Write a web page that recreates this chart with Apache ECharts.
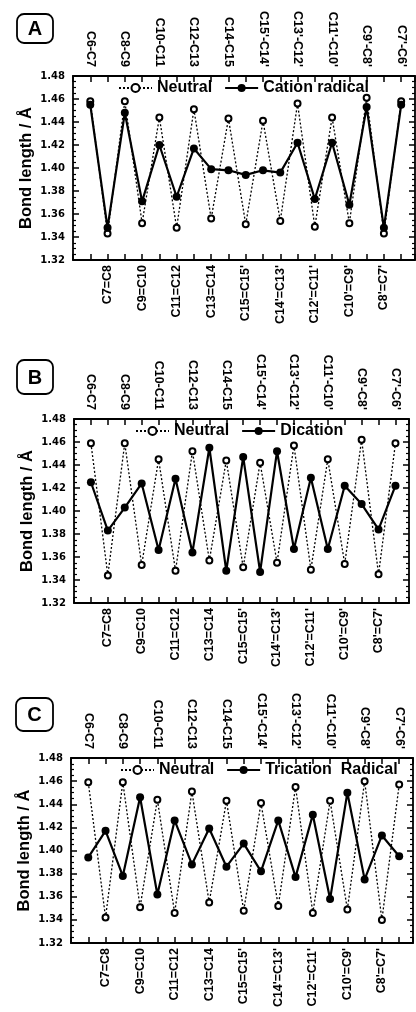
<!DOCTYPE html>
<html><head><meta charset="utf-8">
<script src="https://cdn.jsdelivr.net/npm/echarts@6/dist/echarts.min.js"></script>
<style>html,body{margin:0;padding:0;background:#fff}#c{width:416px;height:1012px}</style>
</head><body><div id="c"></div><script>
// Bond labels along the polyene chain (even index -> top axis, odd index -> bottom axis)
const bonds = ["C6-C7","C7=C8","C8-C9","C9=C10","C10-C11","C11=C12","C12-C13","C13=C14","C14-C15","C15=C15'",
  "C15'-C14'","C14'=C13'","C13'-C12'","C12'=C11'","C11'-C10'","C10'=C9'","C9'-C8'","C8'=C7'","C7'-C6'"];

// Panel A
const neutralA = [1.458,1.343,1.458,1.352,1.444,1.348,1.451,1.356,1.443,1.351,1.441,1.354,1.456,1.349,1.444,1.352,1.461,1.343,1.458];
const cationRadical = [1.455,1.348,1.448,1.371,1.420,1.375,1.417,1.399,1.398,1.394,1.398,1.396,1.422,1.373,1.422,1.368,1.453,1.348,1.455];
// Panel B
const neutralB = [1.459,1.344,1.459,1.353,1.445,1.348,1.452,1.357,1.444,1.351,1.442,1.355,1.457,1.349,1.445,1.354,1.462,1.345,1.459];
const dication = [1.425,1.383,1.403,1.424,1.366,1.428,1.364,1.455,1.348,1.447,1.347,1.452,1.367,1.429,1.367,1.422,1.406,1.384,1.422];
// Panel C
const neutralC = [1.459,1.342,1.459,1.351,1.444,1.346,1.451,1.355,1.443,1.348,1.441,1.352,1.455,1.346,1.443,1.349,1.460,1.340,1.457];
const tricationRadical = [1.394,1.417,1.378,1.446,1.362,1.426,1.388,1.419,1.386,1.406,1.382,1.426,1.377,1.431,1.358,1.450,1.375,1.413,1.395];

const yMin = 1.32, yMax = 1.48, yStep = 0.02;
const panelLetters = ["A","B","C"];
const seriesNames = [["Neutral","Cation radical"],["Neutral","Dication"],["Neutral","Trication  Radical"]];

const panels = [
  {grid:{left:73, top:76, width:342, height:184}, box:{x:17,y:14,w:36,h:29}, legendLeft:118, neutral:neutralA, ion:cationRadical},
  {grid:{left:74, top:419, width:335, height:184}, box:{x:17,y:360,w:36,h:34}, legendLeft:135, neutral:neutralB, ion:dication},
  {grid:{left:71, top:758, width:342, height:185}, box:{x:16,y:698,w:37,h:33}, legendLeft:120, neutral:neutralC, ion:tricationRadical}
];

const FONT = "'Liberation Sans', Arial, sans-serif";
const BLACK = '#000';

function xLabel(parity){
  return function(v){
    const i = Math.round(v);
    if (Math.abs(v - i) > 1e-6 || i < 0 || i >= bonds.length) return '';
    return (i % 2 === parity) ? bonds[i] : '';
  };
}

const grid = [], xAxis = [], yAxis = [], series = [], legend = [], graphic = [];
panels.forEach((p, k) => {
  grid.push(Object.assign({containLabel:false}, p.grid));
  const axisLine = {show:true, onZero:false, lineStyle:{color:BLACK, width:1.8}};
  const xBase = {type:'value', gridIndex:k, min:-1, max:18.8, interval:1,
    axisLine, splitLine:{show:false},
    axisTick:{show:true, inside:true, length:6, lineStyle:{color:BLACK, width:1.5}}};
  xAxis.push(Object.assign({}, xBase, {position:'bottom',
    axisLabel:{rotate:90, margin:5, formatter:xLabel(1), color:BLACK, fontWeight:'bold', fontSize:12.5, fontFamily:FONT}}));
  xAxis.push(Object.assign({}, xBase, {position:'top',
    axisLabel:{rotate:90, margin:9, formatter:xLabel(0), color:BLACK, fontWeight:'bold', fontSize:12.5, fontFamily:FONT}}));
  const yBase = {type:'value', gridIndex:k, min:yMin, max:yMax, interval:yStep,
    axisLine, splitLine:{show:false},
    axisTick:{show:true, inside:true, length:6, lineStyle:{color:BLACK, width:1.5}},
    minorTick:{show:true, splitNumber:4, length:3, lineStyle:{color:BLACK, width:1.2}}};
  yAxis.push(Object.assign({}, yBase, {position:'left',
    name:'Bond length / Å', nameLocation:'middle', nameRotate:90, nameGap:38, nameMoveOverlap:false,
    nameTextStyle:{color:BLACK, fontWeight:'bold', fontSize:16.5, fontFamily:FONT},
    axisLabel:{margin:8, formatter:v => v.toFixed(2), color:BLACK, fontWeight:'bold', fontSize:10, fontFamily:"'DejaVu Sans', sans-serif"}}));
  yAxis.push(Object.assign({}, yBase, {position:'right', axisLabel:{show:false}}));

  series.push({type:'line', name:seriesNames[k][0], xAxisIndex:2*k, yAxisIndex:2*k,
    data:p.neutral.map((v,i)=>[i,v]), symbol:'emptyCircle', symbolSize:6, showSymbol:true, showAllSymbol:true,
    lineStyle:{color:BLACK, width:1.3, type:[2,2]},
    itemStyle:{color:BLACK, borderWidth:1.2}, z:2, animation:false});
  series.push({type:'line', name:seriesNames[k][1], xAxisIndex:2*k, yAxisIndex:2*k,
    data:p.ion.map((v,i)=>[i,v]), symbol:'circle', symbolSize:8, showSymbol:true,
    lineStyle:{color:BLACK, width:2.2, type:'solid'},
    itemStyle:{color:BLACK}, z:3, animation:false});

  legend.push({data:seriesNames[k], left:p.legendLeft, top:p.grid.top + 4,
    itemWidth:33, itemHeight:10, itemGap:12, padding:0,
    textStyle:{color:BLACK, fontWeight:'bold', fontSize:16, fontFamily:FONT}});

  graphic.push({type:'rect', shape:{x:p.box.x, y:p.box.y, width:p.box.w, height:p.box.h, r:7},
    style:{fill:'#fff', stroke:BLACK, lineWidth:1.8}});
  graphic.push({type:'text', x:p.box.x + p.box.w/2, y:p.box.y + p.box.h/2 + 1,
    style:{text:panelLetters[k], fill:BLACK, font:'bold 20px ' + FONT,
      align:'center', verticalAlign:'middle', textAlign:'center', textVerticalAlign:'middle'}});
});

const chart = echarts.init(document.getElementById('c'), null, {renderer:'canvas'});
chart.setOption({animation:false, backgroundColor:'#fff', grid, xAxis, yAxis, series, legend, graphic});
</script></body></html>
